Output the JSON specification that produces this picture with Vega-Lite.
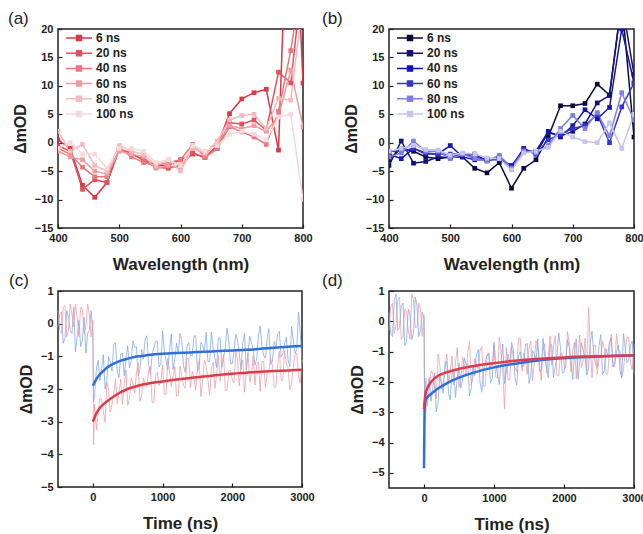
{
"$schema": "https://vega.github.io/schema/vega-lite/v6.json",
"background": "white",
"padding": {"left": 7, "top": 9, "right": 2, "bottom": 0},
"config": {
  "view": {"stroke": "#222", "strokeWidth": 1.5},
  "font": "Liberation Sans",
  "axis": {"domain": false, "grid": false, "labelFont": "Liberation Sans", "labelFontWeight": "bold", "labelFontSize": 11, "labelColor": "#222", "titleFont": "Liberation Sans", "titleFontWeight": "bold", "titleFontSize": 16, "titleColor": "#222", "tickColor": "#222", "tickSize": -4, "tickWidth": 1.2, "labelOverlap": false, "labelFlush": false, "format": "d", "tickCount": 20},
  "axisX": {"labelPadding": 8},
  "axisY": {"labelPadding": 9},
  "title": {"font": "Liberation Sans", "fontSize": 17, "fontWeight": "normal", "anchor": "start", "frame": "group", "color": "#222", "baseline": "top", "offset": -5},
  "legend": {"orient": "none", "legendX": 15, "legendY": 3, "labelFont": "Liberation Sans", "labelFontSize": 12, "labelFontWeight": "bold", "labelColor": "#222", "symbolType": "M-4,0H4M-0.77,-0.77H0.77V0.77H-0.77ZM-0.35,-0.35H0.35V0.35H-0.35Z", "symbolSize": 42, "symbolStrokeWidth": 1.5, "labelOffset": 11, "rowPadding": 3.2, "padding": 0}
},
"datasets": {
"a": [
{"s":"6 ns","x":400,"v":0.5},{"s":"6 ns","x":420,"v":-1},{"s":"6 ns","x":440,"v":-7.5},{"s":"6 ns","x":460,"v":-9.6},{"s":"6 ns","x":480,"v":-7},{"s":"6 ns","x":500,"v":-1},{"s":"6 ns","x":520,"v":-2},{"s":"6 ns","x":540,"v":-3},{"s":"6 ns","x":560,"v":-4},{"s":"6 ns","x":580,"v":-4},{"s":"6 ns","x":600,"v":-3},{"s":"6 ns","x":620,"v":-2},{"s":"6 ns","x":640,"v":-2.5},{"s":"6 ns","x":660,"v":-0.5},{"s":"6 ns","x":680,"v":5.1},{"s":"6 ns","x":700,"v":7.7},{"s":"6 ns","x":720,"v":8.8},{"s":"6 ns","x":740,"v":9.4},{"s":"6 ns","x":760,"v":-1.3},{"s":"6 ns","x":780,"v":60},{"s":"6 ns","x":800,"v":10.5},
{"s":"20 ns","x":400,"v":-0.5},{"s":"20 ns","x":420,"v":-1.5},{"s":"20 ns","x":440,"v":-8.2},{"s":"20 ns","x":460,"v":-6.5},{"s":"20 ns","x":480,"v":-7},{"s":"20 ns","x":500,"v":-1.2},{"s":"20 ns","x":520,"v":-1.8},{"s":"20 ns","x":540,"v":-3.2},{"s":"20 ns","x":560,"v":-4.3},{"s":"20 ns","x":580,"v":-4.5},{"s":"20 ns","x":600,"v":-4},{"s":"20 ns","x":620,"v":-1.8},{"s":"20 ns","x":640,"v":-2.6},{"s":"20 ns","x":660,"v":-1},{"s":"20 ns","x":680,"v":3.5},{"s":"20 ns","x":700,"v":3.3},{"s":"20 ns","x":720,"v":4},{"s":"20 ns","x":740,"v":2.2},{"s":"20 ns","x":760,"v":12.4},{"s":"20 ns","x":780,"v":10.5},{"s":"20 ns","x":800,"v":30},
{"s":"40 ns","x":400,"v":-1},{"s":"40 ns","x":420,"v":-2},{"s":"40 ns","x":440,"v":-4.3},{"s":"40 ns","x":460,"v":-6},{"s":"40 ns","x":480,"v":-6},{"s":"40 ns","x":500,"v":-1},{"s":"40 ns","x":520,"v":-2.5},{"s":"40 ns","x":540,"v":-3.5},{"s":"40 ns","x":560,"v":-4},{"s":"40 ns","x":580,"v":-3.5},{"s":"40 ns","x":600,"v":-3},{"s":"40 ns","x":620,"v":-0.3},{"s":"40 ns","x":640,"v":-2.5},{"s":"40 ns","x":660,"v":-1},{"s":"40 ns","x":680,"v":2.8},{"s":"40 ns","x":700,"v":1.9},{"s":"40 ns","x":720,"v":1},{"s":"40 ns","x":740,"v":-0.3},{"s":"40 ns","x":760,"v":5.5},{"s":"40 ns","x":780,"v":16.2},{"s":"40 ns","x":800,"v":30},
{"s":"60 ns","x":400,"v":-1.5},{"s":"60 ns","x":420,"v":-2.5},{"s":"60 ns","x":440,"v":-3},{"s":"60 ns","x":460,"v":-5},{"s":"60 ns","x":480,"v":-5.5},{"s":"60 ns","x":500,"v":-1.5},{"s":"60 ns","x":520,"v":-2},{"s":"60 ns","x":540,"v":-2.5},{"s":"60 ns","x":560,"v":-4.5},{"s":"60 ns","x":580,"v":-4},{"s":"60 ns","x":600,"v":-4.5},{"s":"60 ns","x":620,"v":-0.5},{"s":"60 ns","x":640,"v":-2},{"s":"60 ns","x":660,"v":0},{"s":"60 ns","x":680,"v":3},{"s":"60 ns","x":700,"v":2.5},{"s":"60 ns","x":720,"v":3},{"s":"60 ns","x":740,"v":2},{"s":"60 ns","x":760,"v":4.6},{"s":"60 ns","x":780,"v":12.8},{"s":"60 ns","x":800,"v":2.8},
{"s":"80 ns","x":400,"v":2},{"s":"80 ns","x":420,"v":-1.5},{"s":"80 ns","x":440,"v":-0.3},{"s":"80 ns","x":460,"v":-4},{"s":"80 ns","x":480,"v":-5},{"s":"80 ns","x":500,"v":-0.5},{"s":"80 ns","x":520,"v":-1.5},{"s":"80 ns","x":540,"v":-2},{"s":"80 ns","x":560,"v":-4},{"s":"80 ns","x":580,"v":-3},{"s":"80 ns","x":600,"v":-5},{"s":"80 ns","x":620,"v":-1},{"s":"80 ns","x":640,"v":-1.8},{"s":"80 ns","x":660,"v":0.3},{"s":"80 ns","x":680,"v":4},{"s":"80 ns","x":700,"v":4.8},{"s":"80 ns","x":720,"v":5},{"s":"80 ns","x":740,"v":2.5},{"s":"80 ns","x":760,"v":7.8},{"s":"80 ns","x":780,"v":7.5},{"s":"80 ns","x":800,"v":25},
{"s":"100 ns","x":400,"v":-1},{"s":"100 ns","x":420,"v":0},{"s":"100 ns","x":440,"v":-2},{"s":"100 ns","x":460,"v":-2},{"s":"100 ns","x":480,"v":-4.5},{"s":"100 ns","x":500,"v":-1},{"s":"100 ns","x":520,"v":-1},{"s":"100 ns","x":540,"v":-1.5},{"s":"100 ns","x":560,"v":-3.5},{"s":"100 ns","x":580,"v":-3},{"s":"100 ns","x":600,"v":-4},{"s":"100 ns","x":620,"v":-0.5},{"s":"100 ns","x":640,"v":-1.5},{"s":"100 ns","x":660,"v":-0.5},{"s":"100 ns","x":680,"v":1.5},{"s":"100 ns","x":700,"v":2},{"s":"100 ns","x":720,"v":1.5},{"s":"100 ns","x":740,"v":0.5},{"s":"100 ns","x":760,"v":4.5},{"s":"100 ns","x":780,"v":5},{"s":"100 ns","x":800,"v":-10}
],
"b": [
{"s":"6 ns","x":400,"v":-3},{"s":"6 ns","x":420,"v":-1},{"s":"6 ns","x":440,"v":-1.5},{"s":"6 ns","x":460,"v":-2.5},{"s":"6 ns","x":480,"v":-2.8},{"s":"6 ns","x":500,"v":-2.5},{"s":"6 ns","x":520,"v":-2.5},{"s":"6 ns","x":540,"v":-4.5},{"s":"6 ns","x":560,"v":-5.3},{"s":"6 ns","x":580,"v":-3.5},{"s":"6 ns","x":600,"v":-8},{"s":"6 ns","x":620,"v":-4.5},{"s":"6 ns","x":640,"v":-3},{"s":"6 ns","x":660,"v":1},{"s":"6 ns","x":680,"v":6.5},{"s":"6 ns","x":700,"v":6.5},{"s":"6 ns","x":720,"v":6.9},{"s":"6 ns","x":740,"v":10.3},{"s":"6 ns","x":760,"v":8.4},{"s":"6 ns","x":780,"v":25},{"s":"6 ns","x":800,"v":1},
{"s":"20 ns","x":400,"v":-4},{"s":"20 ns","x":420,"v":0.3},{"s":"20 ns","x":440,"v":-3.6},{"s":"20 ns","x":460,"v":-3.3},{"s":"20 ns","x":480,"v":-2.5},{"s":"20 ns","x":500,"v":-2.6},{"s":"20 ns","x":520,"v":-2},{"s":"20 ns","x":540,"v":-2},{"s":"20 ns","x":560,"v":-3.2},{"s":"20 ns","x":580,"v":-2.5},{"s":"20 ns","x":600,"v":-4.2},{"s":"20 ns","x":620,"v":-1},{"s":"20 ns","x":640,"v":-2},{"s":"20 ns","x":660,"v":1.8},{"s":"20 ns","x":680,"v":1.2},{"s":"20 ns","x":700,"v":2},{"s":"20 ns","x":720,"v":3.3},{"s":"20 ns","x":740,"v":7},{"s":"20 ns","x":760,"v":8.3},{"s":"20 ns","x":780,"v":25},{"s":"20 ns","x":800,"v":12},
{"s":"40 ns","x":400,"v":-2},{"s":"40 ns","x":420,"v":-2.8},{"s":"40 ns","x":440,"v":-1},{"s":"40 ns","x":460,"v":-2},{"s":"40 ns","x":480,"v":-2},{"s":"40 ns","x":500,"v":-0.5},{"s":"40 ns","x":520,"v":-2.5},{"s":"40 ns","x":540,"v":-3},{"s":"40 ns","x":560,"v":-3},{"s":"40 ns","x":580,"v":-3},{"s":"40 ns","x":600,"v":-4},{"s":"40 ns","x":620,"v":-1.5},{"s":"40 ns","x":640,"v":-1.5},{"s":"40 ns","x":660,"v":2},{"s":"40 ns","x":680,"v":1},{"s":"40 ns","x":700,"v":3},{"s":"40 ns","x":720,"v":5.8},{"s":"40 ns","x":740,"v":4.2},{"s":"40 ns","x":760,"v":6.2},{"s":"40 ns","x":780,"v":20},{"s":"40 ns","x":800,"v":10.5},
{"s":"60 ns","x":400,"v":-1.5},{"s":"60 ns","x":420,"v":-1.5},{"s":"60 ns","x":440,"v":-1},{"s":"60 ns","x":460,"v":-1.8},{"s":"60 ns","x":480,"v":-2},{"s":"60 ns","x":500,"v":-2},{"s":"60 ns","x":520,"v":-2},{"s":"60 ns","x":540,"v":-2.5},{"s":"60 ns","x":560,"v":-3},{"s":"60 ns","x":580,"v":-2.8},{"s":"60 ns","x":600,"v":-4.3},{"s":"60 ns","x":620,"v":-1.2},{"s":"60 ns","x":640,"v":-2},{"s":"60 ns","x":660,"v":0.5},{"s":"60 ns","x":680,"v":1.5},{"s":"60 ns","x":700,"v":2.5},{"s":"60 ns","x":720,"v":3},{"s":"60 ns","x":740,"v":5},{"s":"60 ns","x":760,"v":0},{"s":"60 ns","x":780,"v":6.3},{"s":"60 ns","x":800,"v":10.5},
{"s":"80 ns","x":400,"v":-2.5},{"s":"80 ns","x":420,"v":-1.8},{"s":"80 ns","x":440,"v":0.3},{"s":"80 ns","x":460,"v":-1.5},{"s":"80 ns","x":480,"v":-1.5},{"s":"80 ns","x":500,"v":-2.8},{"s":"80 ns","x":520,"v":-2},{"s":"80 ns","x":540,"v":-2.8},{"s":"80 ns","x":560,"v":-3.2},{"s":"80 ns","x":580,"v":-2.2},{"s":"80 ns","x":600,"v":-4.5},{"s":"80 ns","x":620,"v":-1.5},{"s":"80 ns","x":640,"v":-1.8},{"s":"80 ns","x":660,"v":-0.5},{"s":"80 ns","x":680,"v":2.5},{"s":"80 ns","x":700,"v":4.8},{"s":"80 ns","x":720,"v":2.5},{"s":"80 ns","x":740,"v":5.3},{"s":"80 ns","x":760,"v":1.2},{"s":"80 ns","x":780,"v":8.8},{"s":"80 ns","x":800,"v":4},
{"s":"100 ns","x":400,"v":-1.5},{"s":"100 ns","x":420,"v":-1},{"s":"100 ns","x":440,"v":-0.5},{"s":"100 ns","x":460,"v":-1.2},{"s":"100 ns","x":480,"v":-1.3},{"s":"100 ns","x":500,"v":-2.2},{"s":"100 ns","x":520,"v":-1.8},{"s":"100 ns","x":540,"v":-2},{"s":"100 ns","x":560,"v":-2.7},{"s":"100 ns","x":580,"v":-2.8},{"s":"100 ns","x":600,"v":-4.8},{"s":"100 ns","x":620,"v":-1.8},{"s":"100 ns","x":640,"v":-1.5},{"s":"100 ns","x":660,"v":-0.8},{"s":"100 ns","x":680,"v":2},{"s":"100 ns","x":700,"v":1},{"s":"100 ns","x":720,"v":0.2},{"s":"100 ns","x":740,"v":0},{"s":"100 ns","x":760,"v":3.5},{"s":"100 ns","x":780,"v":-1},{"s":"100 ns","x":800,"v":5}
],
"c_df": [
{"t":-500,"v":-0.1},{"t":-450,"v":0.35},{"t":-400,"v":-0.45},{"t":-350,"v":0.2},{"t":-300,"v":-0.3},{"t":-250,"v":-0.85},{"t":-200,"v":0.1},{"t":-150,"v":-0.5},{"t":-100,"v":-0.9},{"t":-50,"v":-0.2},{"t":0,"v":-0.3},{"t":10,"v":-2.4},
{"t":50,"v":-1.40},{"t":100,"v":-1.75},{"t":150,"v":-0.95},{"t":200,"v":-1.75},{"t":250,"v":-1.18},{"t":300,"v":-0.62},{"t":350,"v":-1.47},{"t":400,"v":-0.93},{"t":450,"v":-1.60},{"t":500,"v":-0.67},{"t":550,"v":-1.15},{"t":600,"v":-0.72},{"t":650,"v":-1.60},{"t":700,"v":-0.79},{"t":750,"v":-0.47},{"t":800,"v":-1.26},{"t":850,"v":-0.95},{"t":900,"v":-0.54},{"t":950,"v":-1.33},{"t":1000,"v":-0.22},{"t":1050,"v":-1.12},{"t":1100,"v":-0.81},{"t":1150,"v":-1.41},{"t":1200,"v":-0.60},{"t":1250,"v":-0.30},{"t":1300,"v":-1.29},{"t":1350,"v":-0.69},{"t":1400,"v":-0.98},{"t":1450,"v":-0.38},{"t":1500,"v":-1.47},{"t":1550,"v":-0.57},{"t":1600,"v":-0.86},{"t":1650,"v":-1.16},{"t":1700,"v":-0.25},{"t":1750,"v":-1.05},{"t":1800,"v":-0.44},{"t":1850,"v":-1.34},{"t":1900,"v":-0.73},{"t":1950,"v":-0.53},{"t":2000,"v":-1.22},{"t":2050,"v":-0.32},{"t":2100,"v":-0.91},{"t":2150,"v":-0.61},{"t":2200,"v":-1.40},{"t":2250,"v":-0.39},{"t":2300,"v":-0.79},{"t":2350,"v":-1.08},{"t":2400,"v":-0.07},{"t":2450,"v":-0.97},{"t":2500,"v":-0.46},{"t":2550,"v":-1.25},{"t":2600,"v":-0.54},{"t":2650,"v":-0.34},{"t":2700,"v":-1.03},{"t":2750,"v":-0.62},{"t":2800,"v":-1.11},{"t":2850,"v":-0.10},{"t":2900,"v":-0.90},{"t":2950,"v":0.35},{"t":3000,"v":-1.18},
{"t":-475,"v":0.3},{"t":-425,"v":-0.6},{"t":-375,"v":0.4},{"t":-325,"v":-0.2},{"t":-275,"v":0.5},{"t":-225,"v":-0.4},{"t":-175,"v":-0.7},{"t":-125,"v":0.2},{"t":-75,"v":-0.3},{"t":-25,"v":0.4},
{"t":25,"v":-2.20},{"t":75,"v":-1.12},{"t":125,"v":-1.40},{"t":175,"v":-2.00},{"t":225,"v":-1.01},{"t":275,"v":-1.45},{"t":325,"v":-0.59},{"t":375,"v":-1.65},{"t":425,"v":-0.91},{"t":475,"v":-1.08},{"t":525,"v":-1.36},{"t":575,"v":-0.53},{"t":625,"v":-0.71},{"t":675,"v":-1.40},{"t":725,"v":-1.08},{"t":775,"v":-0.37},{"t":825,"v":-1.56},{"t":875,"v":-0.75},{"t":925,"v":-0.54},{"t":975,"v":-1.23},{"t":1025,"v":-0.82},{"t":1075,"v":-1.41},{"t":1125,"v":-0.31},{"t":1175,"v":-1.10},{"t":1225,"v":-0.90},{"t":1275,"v":-0.49},{"t":1325,"v":-1.49},{"t":1375,"v":-0.58},{"t":1425,"v":-0.98},{"t":1475,"v":-0.37},{"t":1525,"v":-1.27},{"t":1575,"v":-0.66},{"t":1625,"v":-0.26},{"t":1675,"v":-1.15},{"t":1725,"v":-0.75},{"t":1775,"v":-1.34},{"t":1825,"v":-0.44},{"t":1875,"v":-1.03},{"t":1925,"v":-0.13},{"t":1975,"v":-1.22},{"t":2025,"v":-0.82},{"t":2075,"v":-0.51},{"t":2125,"v":-1.41},{"t":2175,"v":-0.30},{"t":2225,"v":-0.90},{"t":2275,"v":-0.59},{"t":2325,"v":-1.28},{"t":2375,"v":-0.38},{"t":2425,"v":-0.67},{"t":2475,"v":-1.06},{"t":2525,"v":-0.15},{"t":2575,"v":-1.15},{"t":2625,"v":-0.74},{"t":2675,"v":-0.23},{"t":2725,"v":-0.92},{"t":2775,"v":-0.42},{"t":2825,"v":-1.31},{"t":2875,"v":-0.50},{"t":2925,"v":-0.79},{"t":2975,"v":-0.29}
],
"c_af": [
{"t":-500,"v":0.4},{"t":-450,"v":-0.3},{"t":-400,"v":0.55},{"t":-350,"v":-0.2},{"t":-300,"v":0.3},{"t":-250,"v":0.6},{"t":-200,"v":-0.4},{"t":-150,"v":0.45},{"t":-100,"v":-0.1},{"t":-50,"v":0.3},{"t":0,"v":0.1},{"t":10,"v":-3.7},
{"t":50,"v":-3.25},{"t":100,"v":-2.28},{"t":150,"v":-2.67},{"t":200,"v":-1.78},{"t":250,"v":-2.70},{"t":300,"v":-2.13},{"t":350,"v":-2.46},{"t":400,"v":-1.70},{"t":450,"v":-1.85},{"t":500,"v":-2.50},{"t":550,"v":-1.66},{"t":600,"v":-2.13},{"t":650,"v":-1.20},{"t":700,"v":-2.17},{"t":750,"v":-1.85},{"t":800,"v":-1.43},{"t":850,"v":-2.42},{"t":900,"v":-1.60},{"t":950,"v":-1.89},{"t":1000,"v":-1.27},{"t":1050,"v":-2.16},{"t":1100,"v":-1.44},{"t":1150,"v":-1.63},{"t":1200,"v":-2.21},{"t":1250,"v":-1.30},{"t":1300,"v":-1.89},{"t":1350,"v":-1.07},{"t":1400,"v":-1.96},{"t":1450,"v":-1.65},{"t":1500,"v":-1.34},{"t":1550,"v":-2.23},{"t":1600,"v":-1.12},{"t":1650,"v":-1.71},{"t":1700,"v":-1.40},{"t":1750,"v":-1.98},{"t":1800,"v":-0.97},{"t":1850,"v":-1.26},{"t":1900,"v":-2.05},{"t":1950,"v":-1.44},{"t":2000,"v":-1.73},{"t":2050,"v":-0.82},{"t":2100,"v":-1.91},{"t":2150,"v":-1.11},{"t":2200,"v":-1.50},{"t":2250,"v":-1.79},{"t":2300,"v":-0.98},{"t":2350,"v":-1.28},{"t":2400,"v":-2.07},{"t":2450,"v":-1.16},{"t":2500,"v":-1.56},{"t":2550,"v":-1.05},{"t":2600,"v":-1.95},{"t":2650,"v":-1.24},{"t":2700,"v":-1.74},{"t":2750,"v":-0.83},{"t":2800,"v":-1.33},{"t":2850,"v":-1.82},{"t":2900,"v":-0.92},{"t":2950,"v":-1.62},{"t":3000,"v":-1.11},
{"t":-475,"v":-0.2},{"t":-425,"v":0.5},{"t":-375,"v":-0.4},{"t":-325,"v":0.6},{"t":-275,"v":-0.1},{"t":-225,"v":0.2},{"t":-175,"v":0.5},{"t":-125,"v":-0.3},{"t":-75,"v":0.6},{"t":-25,"v":-0.4},
{"t":25,"v":-2.47},{"t":75,"v":-2.76},{"t":125,"v":-2.32},{"t":175,"v":-3.02},{"t":225,"v":-2.04},{"t":275,"v":-2.46},{"t":325,"v":-1.69},{"t":375,"v":-2.13},{"t":425,"v":-2.47},{"t":475,"v":-1.42},{"t":525,"v":-2.28},{"t":575,"v":-1.84},{"t":625,"v":-1.51},{"t":675,"v":-2.38},{"t":725,"v":-1.66},{"t":775,"v":-1.94},{"t":825,"v":-1.32},{"t":875,"v":-2.41},{"t":925,"v":-1.49},{"t":975,"v":-1.78},{"t":1025,"v":-2.16},{"t":1075,"v":-1.05},{"t":1125,"v":-1.93},{"t":1175,"v":-1.32},{"t":1225,"v":-2.20},{"t":1275,"v":-1.59},{"t":1325,"v":-1.98},{"t":1375,"v":-1.07},{"t":1425,"v":-1.46},{"t":1475,"v":-2.04},{"t":1525,"v":-1.13},{"t":1575,"v":-1.72},{"t":1625,"v":-1.31},{"t":1675,"v":-2.20},{"t":1725,"v":-1.19},{"t":1775,"v":-1.58},{"t":1825,"v":-1.76},{"t":1875,"v":-0.95},{"t":1925,"v":-2.04},{"t":1975,"v":-1.43},{"t":2025,"v":-1.82},{"t":2075,"v":-1.11},{"t":2125,"v":-1.31},{"t":2175,"v":-2.10},{"t":2225,"v":-0.89},{"t":2275,"v":-1.58},{"t":2325,"v":-1.88},{"t":2375,"v":-1.17},{"t":2425,"v":-1.16},{"t":2475,"v":-1.96},{"t":2525,"v":-1.45},{"t":2575,"v":-1.25},{"t":2625,"v":-1.94},{"t":2675,"v":-0.84},{"t":2725,"v":-1.73},{"t":2775,"v":-1.23},{"t":2825,"v":-2.02},{"t":2875,"v":-1.32},{"t":2925,"v":-0.91},{"t":2975,"v":-1.81}
],
"c_dffit": [{"t":0,"v":-1.9},{"t":50,"v":-1.7},{"t":100,"v":-1.55},{"t":150,"v":-1.45},{"t":200,"v":-1.35},{"t":300,"v":-1.22},{"t":400,"v":-1.13},{"t":500,"v":-1.07},{"t":600,"v":-1.02},{"t":700,"v":-0.99},{"t":800,"v":-0.96},{"t":1000,"v":-0.92},{"t":1200,"v":-0.9},{"t":1400,"v":-0.88},{"t":1600,"v":-0.86},{"t":1800,"v":-0.84},{"t":2000,"v":-0.82},{"t":2200,"v":-0.8},{"t":2400,"v":-0.77},{"t":2600,"v":-0.74},{"t":2800,"v":-0.71},{"t":3000,"v":-0.68}],
"c_affit": [{"t":0,"v":-3.0},{"t":50,"v":-2.75},{"t":100,"v":-2.58},{"t":150,"v":-2.47},{"t":200,"v":-2.38},{"t":300,"v":-2.23},{"t":400,"v":-2.1},{"t":500,"v":-2.0},{"t":600,"v":-1.93},{"t":700,"v":-1.87},{"t":800,"v":-1.83},{"t":1000,"v":-1.77},{"t":1200,"v":-1.71},{"t":1400,"v":-1.66},{"t":1600,"v":-1.62},{"t":1800,"v":-1.57},{"t":2000,"v":-1.53},{"t":2200,"v":-1.5},{"t":2400,"v":-1.47},{"t":2600,"v":-1.45},{"t":2800,"v":-1.43},{"t":3000,"v":-1.41}],
"d_df": [
{"t":-500,"v":0.3},{"t":-450,"v":-0.5},{"t":-400,"v":0.9},{"t":-350,"v":-0.2},{"t":-300,"v":0.6},{"t":-250,"v":-0.7},{"t":-200,"v":0.2},{"t":-150,"v":-0.4},{"t":-100,"v":0.5},{"t":-50,"v":-0.3},{"t":0,"v":0.1},{"t":10,"v":-3.3},
{"t":50,"v":-2.14},{"t":100,"v":-2.64},{"t":150,"v":-1.71},{"t":200,"v":-2.70},{"t":250,"v":-2.03},{"t":300,"v":-1.36},{"t":350,"v":-2.38},{"t":400,"v":-1.72},{"t":450,"v":-2.51},{"t":500,"v":-1.38},{"t":550,"v":-1.94},{"t":600,"v":-1.42},{"t":650,"v":-2.46},{"t":700,"v":-1.46},{"t":750,"v":-1.07},{"t":800,"v":-2.00},{"t":850,"v":-1.61},{"t":900,"v":-1.10},{"t":950,"v":-2.03},{"t":1000,"v":-0.68},{"t":1050,"v":-1.74},{"t":1100,"v":-1.36},{"t":1150,"v":-2.06},{"t":1200,"v":-1.08},{"t":1250,"v":-0.70},{"t":1300,"v":-1.88},{"t":1350,"v":-1.14},{"t":1400,"v":-1.49},{"t":1450,"v":-0.75},{"t":1500,"v":-2.05},{"t":1550,"v":-0.96},{"t":1600,"v":-1.30},{"t":1650,"v":-1.65},{"t":1700,"v":-0.56},{"t":1750,"v":-1.51},{"t":1800,"v":-0.78},{"t":1850,"v":-1.85},{"t":1900,"v":-1.12},{"t":1950,"v":-0.87},{"t":2000,"v":-1.70},{"t":2050,"v":-0.61},{"t":2100,"v":-1.32},{"t":2150,"v":-0.96},{"t":2200,"v":-1.91},{"t":2250,"v":-0.71},{"t":2300,"v":-1.18},{"t":2350,"v":-1.54},{"t":2400,"v":-0.33},{"t":2450,"v":-1.41},{"t":2500,"v":-0.80},{"t":2550,"v":-1.76},{"t":2600,"v":-0.91},{"t":2650,"v":-0.67},{"t":2700,"v":-1.50},{"t":2750,"v":-1.02},{"t":2800,"v":-1.62},{"t":2850,"v":-0.41},{"t":2900,"v":-1.37},{"t":2950,"v":-0.77},{"t":3000,"v":-1.73},
{"t":-475,"v":-0.4},{"t":-425,"v":0.7},{"t":-375,"v":-0.3},{"t":-325,"v":0.5},{"t":-275,"v":-0.8},{"t":-225,"v":0.4},{"t":-175,"v":-0.6},{"t":-125,"v":0.8},{"t":-75,"v":-0.5},{"t":-25,"v":0.3},
{"t":25,"v":-3.04},{"t":75,"v":-1.85},{"t":125,"v":-2.24},{"t":175,"v":-2.99},{"t":225,"v":-1.83},{"t":275,"v":-2.36},{"t":325,"v":-1.33},{"t":375,"v":-2.59},{"t":425,"v":-1.69},{"t":475,"v":-1.88},{"t":525,"v":-2.20},{"t":575,"v":-1.20},{"t":625,"v":-1.40},{"t":675,"v":-2.20},{"t":725,"v":-1.80},{"t":775,"v":-0.93},{"t":825,"v":-2.34},{"t":875,"v":-1.35},{"t":925,"v":-1.08},{"t":975,"v":-1.89},{"t":1025,"v":-1.39},{"t":1075,"v":-2.09},{"t":1125,"v":-0.75},{"t":1175,"v":-1.69},{"t":1225,"v":-1.43},{"t":1275,"v":-0.93},{"t":1325,"v":-2.11},{"t":1375,"v":-1.01},{"t":1425,"v":-1.48},{"t":1475,"v":-0.74},{"t":1525,"v":-1.80},{"t":1575,"v":-1.07},{"t":1625,"v":-0.58},{"t":1675,"v":-1.64},{"t":1725,"v":-1.15},{"t":1775,"v":-1.86},{"t":1825,"v":-0.77},{"t":1875,"v":-1.48},{"t":1925,"v":-0.39},{"t":1975,"v":-1.70},{"t":2025,"v":-1.21},{"t":2075,"v":-0.84},{"t":2125,"v":-1.92},{"t":2175,"v":-0.59},{"t":2225,"v":-1.31},{"t":2275,"v":-0.94},{"t":2325,"v":-1.78},{"t":2375,"v":-0.69},{"t":2425,"v":-1.05},{"t":2475,"v":-1.52},{"t":2525,"v":-0.44},{"t":2575,"v":-1.63},{"t":2625,"v":-1.15},{"t":2675,"v":-0.54},{"t":2725,"v":-1.38},{"t":2775,"v":-0.78},{"t":2825,"v":-1.85},{"t":2875,"v":-0.89},{"t":2925,"v":-1.25},{"t":2975,"v":-0.65}
],
"d_af": [
{"t":-500,"v":-0.3},{"t":-450,"v":0.6},{"t":-400,"v":-0.1},{"t":-350,"v":0.8},{"t":-300,"v":-0.5},{"t":-250,"v":0.3},{"t":-200,"v":-0.6},{"t":-150,"v":0.7},{"t":-100,"v":-0.2},{"t":-50,"v":0.4},{"t":0,"v":0.2},{"t":10,"v":-3.0},
{"t":50,"v":-2.80},{"t":100,"v":-1.64},{"t":150,"v":-2.14},{"t":200,"v":-1.08},{"t":250,"v":-2.23},{"t":300,"v":-1.58},{"t":350,"v":-2.02},{"t":400,"v":-1.15},{"t":450,"v":-1.36},{"t":500,"v":-2.17},{"t":550,"v":-1.19},{"t":600,"v":-1.76},{"t":650,"v":-0.66},{"t":700,"v":-1.84},{"t":750,"v":-1.46},{"t":800,"v":-0.96},{"t":850,"v":-2.14},{"t":900,"v":-1.17},{"t":950,"v":-1.51},{"t":1000,"v":-0.78},{"t":1050,"v":-1.85},{"t":1100,"v":-0.99},{"t":1150,"v":-2.90},{"t":1200,"v":-1.93},{"t":1250,"v":-0.84},{"t":1300,"v":-1.54},{"t":1350,"v":-0.57},{"t":1400,"v":-1.64},{"t":1450,"v":-1.27},{"t":1500,"v":-0.90},{"t":1550,"v":-1.97},{"t":1600,"v":-0.64},{"t":1650,"v":-1.35},{"t":1700,"v":-0.98},{"t":1750,"v":-1.70},{"t":1800,"v":-0.49},{"t":1850,"v":-0.84},{"t":1900,"v":-1.80},{"t":1950,"v":-1.07},{"t":2000,"v":-1.43},{"t":2050,"v":-0.34},{"t":2100,"v":-1.66},{"t":2150,"v":-0.69},{"t":2200,"v":-1.17},{"t":2250,"v":-1.52},{"t":2300,"v":-0.56},{"t":2350,"v":0.45},{"t":2400,"v":-1.87},{"t":2450,"v":-0.79},{"t":2500,"v":-1.27},{"t":2550,"v":-0.66},{"t":2600,"v":-1.74},{"t":2650,"v":-0.90},{"t":2700,"v":-1.49},{"t":2750,"v":-0.41},{"t":2800,"v":-1.01},{"t":2850,"v":-1.60},{"t":2900,"v":-0.52},{"t":2950,"v":-1.36},{"t":3000,"v":-0.76},
{"t":-475,"v":0.5},{"t":-425,"v":-0.4},{"t":-375,"v":0.7},{"t":-325,"v":-0.6},{"t":-275,"v":0.4},{"t":-225,"v":-0.3},{"t":-175,"v":0.9},{"t":-125,"v":-0.2},{"t":-75,"v":0.6},{"t":-25,"v":-0.5},
{"t":25,"v":-1.87},{"t":75,"v":-2.22},{"t":125,"v":-1.71},{"t":175,"v":-2.55},{"t":225,"v":-1.41},{"t":275,"v":-1.96},{"t":325,"v":-1.08},{"t":375,"v":-1.65},{"t":425,"v":-2.10},{"t":475,"v":-0.87},{"t":525,"v":-1.92},{"t":575,"v":-1.42},{"t":625,"v":-1.03},{"t":675,"v":-2.09},{"t":725,"v":-1.23},{"t":775,"v":-1.57},{"t":825,"v":-0.83},{"t":875,"v":-2.14},{"t":925,"v":-1.04},{"t":975,"v":-1.39},{"t":1025,"v":-1.86},{"t":1075,"v":-0.52},{"t":1125,"v":-1.59},{"t":1175,"v":-0.86},{"t":1225,"v":-1.93},{"t":1275,"v":-1.19},{"t":1325,"v":-1.66},{"t":1375,"v":-0.57},{"t":1425,"v":-1.04},{"t":1475,"v":-1.75},{"t":1525,"v":-0.66},{"t":1575,"v":-1.37},{"t":1625,"v":-0.88},{"t":1675,"v":-1.95},{"t":1725,"v":-0.74},{"t":1775,"v":-1.22},{"t":1825,"v":-1.45},{"t":1875,"v":-0.48},{"t":1925,"v":-1.80},{"t":1975,"v":-1.07},{"t":2025,"v":-1.55},{"t":2075,"v":-0.70},{"t":2125,"v":-0.94},{"t":2175,"v":-1.89},{"t":2225,"v":-0.45},{"t":2275,"v":-1.28},{"t":2325,"v":-1.64},{"t":2375,"v":-0.80},{"t":2425,"v":-0.79},{"t":2475,"v":-1.75},{"t":2525,"v":-1.15},{"t":2575,"v":-0.90},{"t":2625,"v":-1.74},{"t":2675,"v":-0.42},{"t":2725,"v":-1.49},{"t":2775,"v":-0.89},{"t":2825,"v":-1.85},{"t":2875,"v":-1.00},{"t":2925,"v":-0.52},{"t":2975,"v":-1.60}
],
"d_dffit": [{"t":0,"v":-4.85},{"t":8,"v":-2.9},{"t":20,"v":-2.62},{"t":50,"v":-2.5},{"t":100,"v":-2.4},{"t":200,"v":-2.22},{"t":300,"v":-2.08},{"t":400,"v":-1.96},{"t":500,"v":-1.86},{"t":700,"v":-1.7},{"t":1000,"v":-1.52},{"t":1300,"v":-1.4},{"t":1600,"v":-1.3},{"t":2000,"v":-1.22},{"t":2500,"v":-1.16},{"t":3000,"v":-1.13}],
"d_affit": [{"t":0,"v":-2.9},{"t":20,"v":-2.4},{"t":50,"v":-2.2},{"t":100,"v":-2.0},{"t":200,"v":-1.8},{"t":300,"v":-1.7},{"t":500,"v":-1.57},{"t":700,"v":-1.48},{"t":1000,"v":-1.38},{"t":1300,"v":-1.3},{"t":1600,"v":-1.24},{"t":2000,"v":-1.19},{"t":2500,"v":-1.15},{"t":3000,"v":-1.12}]
},
"columns": 2,
"bounds": "flush",
"spacing": {"row": 63, "column": 86},
"resolve": {"scale": {"color": "independent", "x": "independent", "y": "independent"}},
"concat": [
{
"title": {"text": "(a)", "dx": -50},
"width": 245, "height": 199,
"layer": [
{"data": {"name": "a"}, "mark": {"type": "line", "clip": true, "strokeWidth": 1.5},
 "encoding": {
  "x": {"field": "x", "type": "quantitative", "scale": {"domain": [400, 800], "nice": false}, "axis": {"title": "Wavelength (nm)", "values": [400, 500, 600, 700, 800], "titleFontSize": 17, "titlePadding": 13}},
  "y": {"field": "v", "type": "quantitative", "scale": {"domain": [-15, 20], "nice": false}, "axis": {"title": "ΔmOD", "values": [-15, -10, -5, 0, 5, 10, 15, 20], "titlePadding": 6}},
  "color": {"field": "s", "type": "nominal", "scale": {"domain": ["6 ns", "20 ns", "40 ns", "60 ns", "80 ns", "100 ns"], "range": ["#d83a48", "#e0525e", "#e67880", "#ec9da1", "#f1bcbf", "#f6d9da"]}, "legend": {"title": null}}
 }},
{"data": {"name": "a"}, "mark": {"type": "point", "clip": true, "shape": "square", "filled": true, "size": 22, "opacity": 1},
 "encoding": {
  "x": {"field": "x", "type": "quantitative"},
  "y": {"field": "v", "type": "quantitative"},
  "color": {"field": "s", "type": "nominal"}
 }},
{"mark": {"type": "rule", "color": "#111", "strokeWidth": 1.5}, "encoding": {"y": {"datum": 0}}},
{"mark": {"type": "text", "align": "right", "baseline": "middle", "fontSize": 16, "fontWeight": "bold", "color": "#e5455a", "font": "Liberation Sans"}, "encoding": {"x": {"datum": 797}, "y": {"datum": -12.7}, "text": {"value": "PBF8BT-AF"}}}
]
},
{
"title": {"text": "(b)", "dx": -67},
"width": 245, "height": 199,
"layer": [
{"data": {"name": "b"}, "mark": {"type": "line", "clip": true, "strokeWidth": 1.5},
 "encoding": {
  "x": {"field": "x", "type": "quantitative", "scale": {"domain": [400, 800], "nice": false}, "axis": {"title": "Wavelength (nm)", "values": [400, 500, 600, 700, 800], "titleFontSize": 17, "titlePadding": 13}},
  "y": {"field": "v", "type": "quantitative", "scale": {"domain": [-15, 20], "nice": false}, "axis": {"title": "ΔmOD", "values": [-15, -10, -5, 0, 5, 10, 15, 20], "titlePadding": 6}},
  "color": {"field": "s", "type": "nominal", "scale": {"domain": ["6 ns", "20 ns", "40 ns", "60 ns", "80 ns", "100 ns"], "range": ["#0b0b3b", "#141478", "#1515b0", "#3535cc", "#8080e0", "#c5c5ee"]}, "legend": {"title": null}}
 }},
{"data": {"name": "b"}, "mark": {"type": "point", "clip": true, "shape": "square", "filled": true, "size": 22, "opacity": 1},
 "encoding": {
  "x": {"field": "x", "type": "quantitative"},
  "y": {"field": "v", "type": "quantitative"},
  "color": {"field": "s", "type": "nominal"}
 }},
{"mark": {"type": "rule", "color": "#111", "strokeWidth": 1.5}, "encoding": {"y": {"datum": 0}}},
{"mark": {"type": "text", "align": "right", "baseline": "middle", "fontSize": 16, "fontWeight": "bold", "color": "#3a85e0", "font": "Liberation Sans"}, "encoding": {"x": {"datum": 786}, "y": {"datum": -12.7}, "text": {"value": "PBF8BT-DF"}}}
]
},
{
"title": {"text": "(c)", "dx": -49},
"width": 244, "height": 196,
"layer": [
{"data": {"name": "c_df"}, "mark": {"type": "line", "strokeWidth": 1, "color": "#7fa6e6", "opacity": 0.75},
 "encoding": {
  "x": {"field": "t", "type": "quantitative", "scale": {"domain": [-500, 3000], "nice": false}, "axis": {"title": "Time (ns)", "values": [0, 1000, 2000, 3000], "titleFontSize": 17, "titlePadding": 13}},
  "y": {"field": "v", "type": "quantitative", "scale": {"domain": [-5, 1], "nice": false}, "axis": {"title": "ΔmOD", "values": [-5, -4, -3, -2, -1, 0, 1], "titlePadding": 6}}
 }},
{"data": {"name": "c_af"}, "mark": {"type": "line", "strokeWidth": 1, "color": "#ef9aa6", "opacity": 0.75},
 "encoding": {"x": {"field": "t", "type": "quantitative"}, "y": {"field": "v", "type": "quantitative"}}},
{"mark": {"type": "rule", "color": "#111", "strokeWidth": 1.5}, "encoding": {"y": {"datum": 0}}},
{"data": {"name": "c_dffit"}, "mark": {"type": "line", "strokeWidth": 2.5, "color": "#2f6fd8", "interpolate": "monotone"},
 "encoding": {"x": {"field": "t", "type": "quantitative"}, "y": {"field": "v", "type": "quantitative"}}},
{"data": {"name": "c_affit"}, "mark": {"type": "line", "strokeWidth": 2.5, "color": "#dd3c4c", "interpolate": "monotone"},
 "encoding": {"x": {"field": "t", "type": "quantitative"}, "y": {"field": "v", "type": "quantitative"}}},
{"mark": {"type": "text", "align": "left", "baseline": "middle", "fontSize": 12, "color": "#222"}, "encoding": {"x": {"datum": 1500}, "y": {"datum": -3.6}, "text": {"value": "λ"}}},
{"mark": {"type": "text", "align": "left", "baseline": "middle", "fontSize": 7, "fontWeight": "bold", "color": "#222", "dx": 7, "dy": 3}, "encoding": {"x": {"datum": 1500}, "y": {"datum": -3.6}, "text": {"value": "prob"}}},
{"mark": {"type": "text", "align": "left", "baseline": "middle", "fontSize": 11, "fontWeight": "bold", "color": "#222", "dx": 23}, "encoding": {"x": {"datum": 1500}, "y": {"datum": -3.6}, "text": {"value": "= 470 nm"}}},
{"mark": {"type": "rule", "color": "#2f6fd8", "strokeWidth": 2.5}, "encoding": {"x": {"datum": 1570}, "x2": {"datum": 1985}, "y": {"datum": -4.1}}},
{"mark": {"type": "rule", "color": "#dd3c4c", "strokeWidth": 2.5}, "encoding": {"x": {"datum": 1570}, "x2": {"datum": 1985}, "y": {"datum": -4.31}}},
{"mark": {"type": "text", "align": "left", "baseline": "middle", "fontSize": 11, "fontWeight": "bold", "color": "#222"}, "encoding": {"x": {"datum": 1995}, "y": {"datum": -4.1}, "text": {"value": "PBF8BT-DF"}}},
{"mark": {"type": "text", "align": "left", "baseline": "middle", "fontSize": 11, "fontWeight": "bold", "color": "#222"}, "encoding": {"x": {"datum": 1995}, "y": {"datum": -4.31}, "text": {"value": "PBF8BT-AF"}}}
]
},
{
"title": {"text": "(d)", "dx": -67},
"width": 245, "height": 197,
"layer": [
{"data": {"name": "d_af"}, "mark": {"type": "line", "strokeWidth": 1, "color": "#ef9aa6", "opacity": 0.75},
 "encoding": {
  "x": {"field": "t", "type": "quantitative", "scale": {"domain": [-500, 3000], "nice": false}, "axis": {"title": "Time (ns)", "values": [0, 1000, 2000, 3000], "titleFontSize": 17, "titlePadding": 13}},
  "y": {"field": "v", "type": "quantitative", "scale": {"domain": [-5.5, 1], "nice": false}, "axis": {"title": "ΔmOD", "values": [-5, -4, -3, -2, -1, 0, 1], "titlePadding": 6}}
 }},
{"data": {"name": "d_df"}, "mark": {"type": "line", "strokeWidth": 1, "color": "#7fa6e6", "opacity": 0.75},
 "encoding": {"x": {"field": "t", "type": "quantitative"}, "y": {"field": "v", "type": "quantitative"}}},
{"mark": {"type": "rule", "color": "#111", "strokeWidth": 1.5}, "encoding": {"y": {"datum": 0}}},
{"data": {"name": "d_dffit"}, "mark": {"type": "line", "strokeWidth": 2.5, "color": "#2f6fd8", "interpolate": "monotone"},
 "encoding": {"x": {"field": "t", "type": "quantitative"}, "y": {"field": "v", "type": "quantitative"}}},
{"data": {"name": "d_affit"}, "mark": {"type": "line", "strokeWidth": 2.5, "color": "#dd3c4c", "interpolate": "monotone"},
 "encoding": {"x": {"field": "t", "type": "quantitative"}, "y": {"field": "v", "type": "quantitative"}}},
{"mark": {"type": "text", "align": "left", "baseline": "middle", "fontSize": 12, "color": "#222"}, "encoding": {"x": {"datum": 1520}, "y": {"datum": -4.0}, "text": {"value": "λ"}}},
{"mark": {"type": "text", "align": "left", "baseline": "middle", "fontSize": 7, "fontWeight": "bold", "color": "#222", "dx": 7, "dy": 3}, "encoding": {"x": {"datum": 1520}, "y": {"datum": -4.0}, "text": {"value": "prob"}}},
{"mark": {"type": "text", "align": "left", "baseline": "middle", "fontSize": 11, "fontWeight": "bold", "color": "#222", "dx": 23}, "encoding": {"x": {"datum": 1520}, "y": {"datum": -4.0}, "text": {"value": "= 580 nm"}}},
{"mark": {"type": "rule", "color": "#2f6fd8", "strokeWidth": 2.5}, "encoding": {"x": {"datum": 1540}, "x2": {"datum": 1930}, "y": {"datum": -4.52}}},
{"mark": {"type": "rule", "color": "#dd3c4c", "strokeWidth": 2.5}, "encoding": {"x": {"datum": 1540}, "x2": {"datum": 1930}, "y": {"datum": -4.82}}},
{"mark": {"type": "text", "align": "left", "baseline": "middle", "fontSize": 11, "fontWeight": "bold", "color": "#222"}, "encoding": {"x": {"datum": 1940}, "y": {"datum": -4.52}, "text": {"value": "PBF8BT-DF"}}},
{"mark": {"type": "text", "align": "left", "baseline": "middle", "fontSize": 11, "fontWeight": "bold", "color": "#222"}, "encoding": {"x": {"datum": 1940}, "y": {"datum": -4.82}, "text": {"value": "PBF8BT-AF"}}}
]
}
]
}
